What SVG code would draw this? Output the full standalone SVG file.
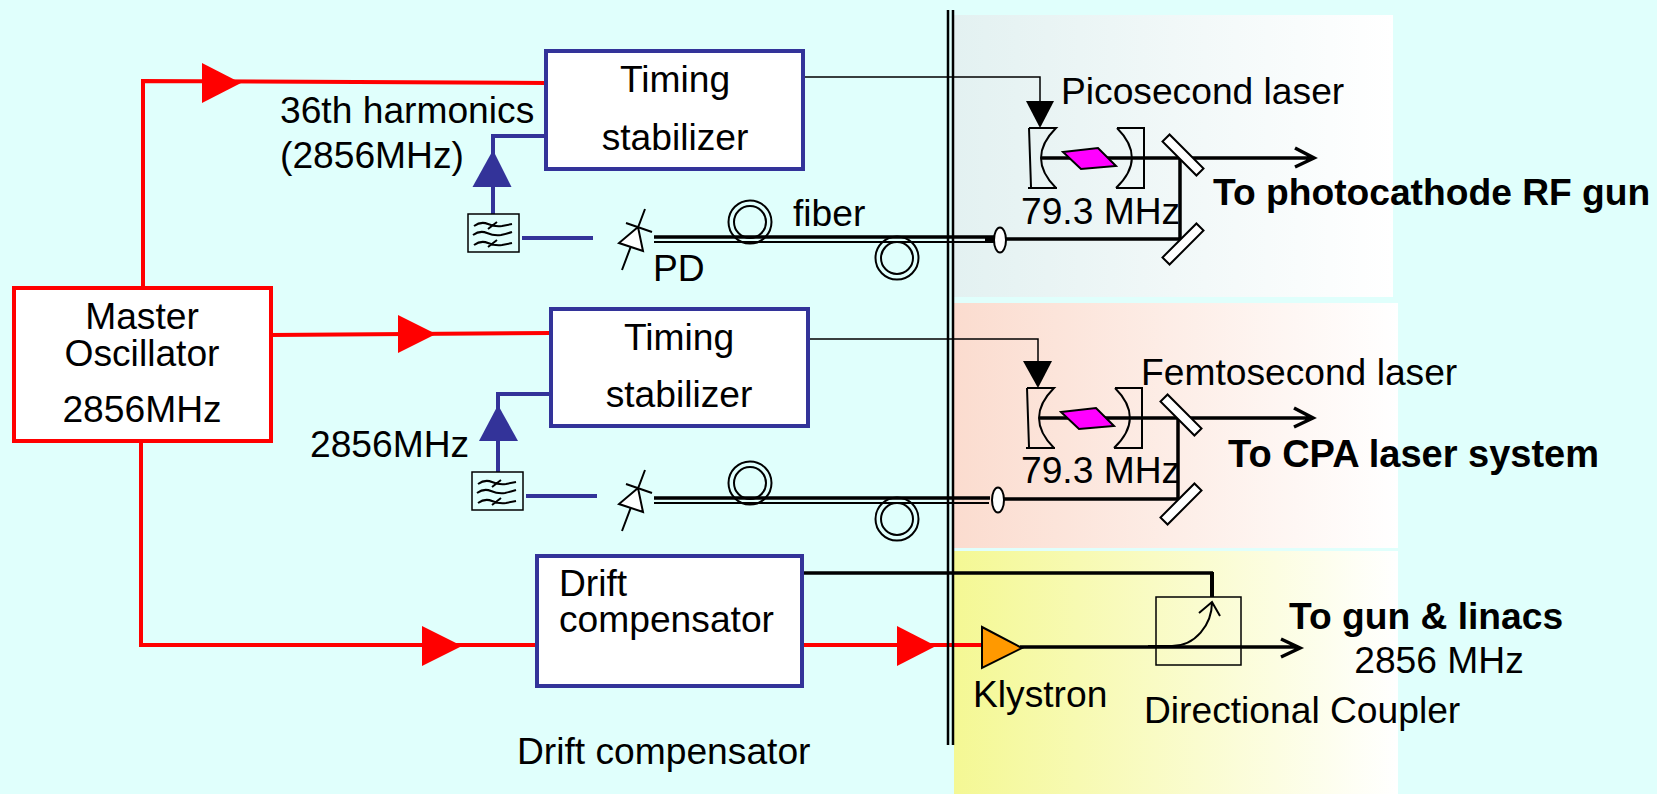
<svg xmlns="http://www.w3.org/2000/svg" width="1657" height="794" viewBox="0 0 1657 794">
<style>
text{font-family:"Liberation Sans",Arial,sans-serif;fill:#000;font-size:37.2px}
.c{text-anchor:middle}
.b{font-weight:bold}
.box{fill:#fff;stroke:#333399;stroke-width:4}
.red{fill:none;stroke:#ff0000;stroke-width:4}
.blue{fill:none;stroke:#333399;stroke-width:4}
.k{fill:none;stroke:#000;stroke-width:3.5}
.k2{fill:none;stroke:#000;stroke-width:2}
.k1{fill:none;stroke:#000;stroke-width:1.5}
.w{fill:#fff;stroke:#000;stroke-width:2}
</style>
<defs>
<linearGradient id="g1"><stop offset="0" stop-color="#e3f1f1"/><stop offset="1" stop-color="#ffffff"/></linearGradient>
<linearGradient id="g2"><stop offset="0" stop-color="#fbdccf"/><stop offset="1" stop-color="#ffffff"/></linearGradient>
<linearGradient id="g3"><stop offset="0" stop-color="#f4f894"/><stop offset="1" stop-color="#ffffff"/></linearGradient>
<g id="filter"><rect x="0" y="0" width="51" height="38" fill="#e0fffc" stroke="#000" stroke-width="1.5"/><path d="M6 12q7-5 14-2t14 2q5-1 10-2M5 21q7-5 14-2t14 2q5-1 11-3M6 31q7-5 14-2t14 2q5-1 10-2M20 15l9-7M20 33l9-7" class="k2"/></g>
<g id="diode"><path d="M26 0L3 61M7 14L33 23" class="k2"/><path d="M19 18L0 34L24 42Z" class="w"/></g>
<g id="coil"><circle r="21.5" class="k2"/><circle r="16" class="k2"/></g>
<g id="cavity"><path d="M-1 0L1 59M-2 60H27M-1 0H26C6 20 6 40 26 60M87 0H114V60M86 60H115M87 0C107 20 107 40 86 60" class="k2"/><path d="M11 30H150" class="k"/><path d="M33 24L68 20L86 38L51 41Z" fill="#ff00ff" stroke="#000" stroke-width="2"/></g>
<rect id="mirror" x="-5" y="-24" width="10" height="48" class="w"/>
</defs>
<rect width="1657" height="794" fill="#e0fffc"/>
<rect x="954" y="15" width="439" height="282" fill="url(#g1)"/>
<rect x="954" y="303" width="444" height="245" fill="url(#g2)"/>
<rect x="954" y="551" width="444" height="243" fill="url(#g3)"/>
<g id="connectors">
<path class="red" d="M143 290V81L547 83"/>
<path class="red" d="M271 335L551 333"/>
<path class="red" d="M141 441V645H537"/>
<path class="red" d="M802 645H982"/>
<path fill="#ff0000" d="M202 63L241 83L202 103Z"/>
<path fill="#ff0000" d="M398 315L436 334L398 353Z"/>
<path fill="#ff0000" d="M422 626L462 646L422 666Z"/>
<path fill="#ff0000" d="M897 626L936 646L897 666Z"/>
<path class="blue" d="M546 136H493V218"/>
<path class="blue" d="M551 394H498V477"/>
<path class="blue" d="M522 238H593"/>
<path class="blue" d="M526 496H597"/>
<path fill="#333399" d="M493 150L472.500 187H511.500Z"/>
<path fill="#333399" d="M498 405L479 441H518Z"/>
<path class="k1" d="M804 77H1040V104"/>
<path class="k1" d="M809 339H1038V362"/>
<path fill="#000" d="M1026 101H1054L1040 128Z"/>
<path fill="#000" d="M1023 361H1052L1038 388Z"/>
<path class="k" d="M802 573H1213"/>
<path d="M1212 572V597" stroke="#000" stroke-width="4" fill="none"/>
</g>
<g id="vline"><path d="M948 10V745M953 10V745" stroke="#000" stroke-width="2.500" fill="none"/></g>
<g id="master"><rect x="14" y="288" width="257" height="153" fill="#fff" stroke="#ff0000" stroke-width="4"/>
<text class="c" x="142" y="329">Master</text><text class="c" x="142" y="366">Oscillator</text><text class="c" x="142" y="422">2856MHz</text></g>
<g id="timing1"><rect class="box" x="546" y="51" width="257" height="118"/><text class="c" x="675" y="92">Timing</text><text class="c" x="675" y="150">stabilizer</text></g>
<g id="timing2"><rect class="box" x="551" y="309" width="257" height="117"/><text class="c" x="679" y="350">Timing</text><text class="c" x="679" y="407">stabilizer</text></g>
<g id="drift"><rect class="box" x="537" y="556" width="265" height="130"/><text x="559" y="596">Drift</text><text x="559" y="632">compensator</text></g>
<g id="labels">
<text x="280" y="123">36th harmonics</text><text x="280" y="168">(2856MHz)</text>
<text x="310" y="457">2856MHz</text>
<text x="653" y="281">PD</text><text x="793" y="226">fiber</text>
<text x="517" y="764">Drift compensator</text>
</g>
<g id="rx1">
<use href="#filter" x="468" y="214"/><use href="#diode" x="619" y="209"/>
<use href="#coil" x="750" y="222"/><use href="#coil" x="897" y="258"/>
<path class="k" d="M654 237H994"/><path class="k2" d="M654 242H994"/>
<path d="M985 239.500H994" stroke="#000" stroke-width="6" fill="none"/>
<path d="M1000 239H1180V158" class="k"/>
<ellipse cx="1000" cy="240" rx="6" ry="12.500" class="w"/>
</g>
<g id="rx2">
<use href="#filter" x="472" y="472"/><use href="#diode" x="619" y="470"/>
<use href="#coil" x="750" y="483"/><use href="#coil" x="897" y="519"/>
<path class="k" d="M654 498H990"/><path class="k2" d="M654 503H989"/>
<path d="M998 499H1178V418" class="k"/>
<ellipse cx="998" cy="500" rx="6" ry="12.500" class="w"/>
</g>
<g id="laser1">
<use href="#cavity" x="1030" y="128"/>
<path class="k" d="M1180 158H1313M1295 148L1314 158L1295 167"/>
<use href="#mirror" transform="translate(1183 155) rotate(-45)"/><use href="#mirror" transform="translate(1183 244) rotate(45)"/>
<text x="1061" y="104">Picosecond laser</text>
<text x="1021" y="224">79.3 MHz</text>
<text class="b" x="1213" y="205">To photocathode RF gun</text>
</g>
<g id="laser2">
<use href="#cavity" x="1028" y="388"/>
<path class="k" d="M1178 418H1312M1294 408L1313 418L1294 427"/>
<use href="#mirror" transform="translate(1181 415) rotate(-45)"/><use href="#mirror" transform="translate(1181 504) rotate(45)"/>
<text x="1141" y="385">Femtosecond laser</text>
<text x="1021" y="483">79.3 MHz</text>
<text class="b" x="1228" y="467" style="font-size:38px">To CPA laser system</text>
</g>
<g id="klystron">
<path d="M1020 647H1298M1281 639L1300 648L1281 657" class="k"/>
<path d="M982 627L1022 648L982 668Z" fill="#ff9900" stroke="#000" stroke-width="2"/>
<text x="973" y="707">Klystron</text>
</g>
<g id="coupler">
<rect x="1156" y="597" width="85" height="68" fill="none" stroke="#000" stroke-width="1.500"/>
<path class="k2" d="M1148 646H1172C1195 646 1212 625 1212 602M1199 613L1212 602L1220 616"/>
<text class="b" x="1289" y="629">To gun &amp; linacs</text>
<text x="1439" y="673" class="c">2856 MHz</text>
<text x="1144" y="723">Directional Coupler</text>
</g>
</svg>
